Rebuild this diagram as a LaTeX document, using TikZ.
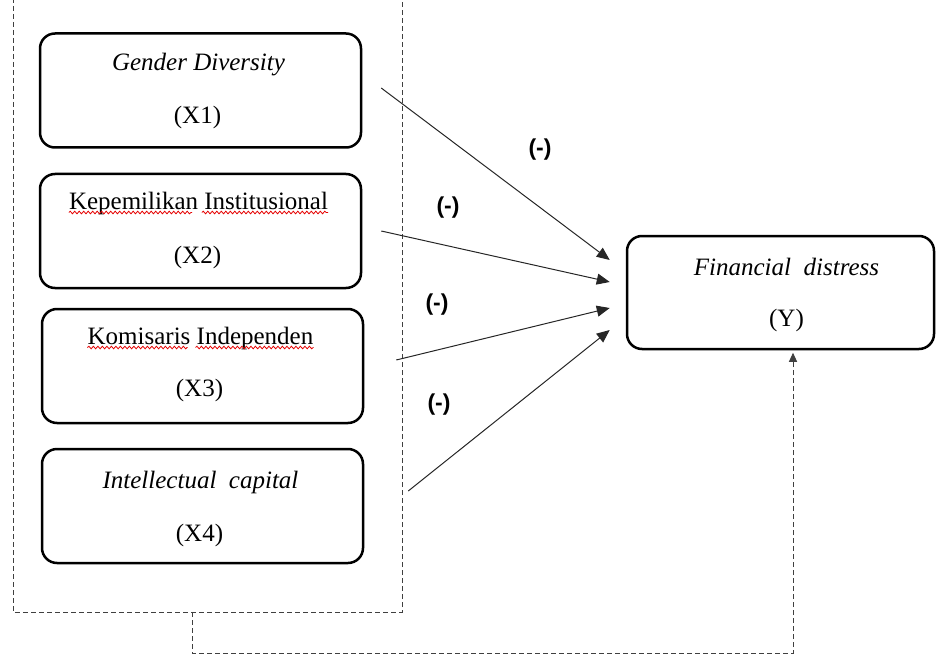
\documentclass[tikz,border=0pt]{standalone}
\usepackage{fontspec}
\setmainfont{Liberation Serif}
\newfontfamily\labfont{Liberation Sans}
\usetikzlibrary{arrows.meta,calc,decorations.pathmorphing}
\begin{document}
\begin{tikzpicture}[x=1pt,y=-1pt,
  var/.style={draw=black,line width=2.5pt,rounded corners=15pt,minimum width=321pt,minimum height=114pt,inner sep=0pt},
  txt/.style={inner sep=0pt,font={\fontsize{25}{30}\selectfont}},
  itx/.style={inner sep=0pt,font={\fontsize{25}{30}\selectfont\itshape}},
  sign/.style={inner sep=0pt,font={\labfont\bfseries\fontsize{23}{27}\selectfont}},
  link/.style={draw=black!85,line width=1pt,-{Triangle[length=13pt,width=11pt]}},
  frame/.style={draw=black!75,line width=1pt,dash pattern=on 5pt off 3pt},
  squig/.style={draw=red!90!black,line width=0.8pt,decorate,decoration={snake,amplitude=1.3pt,segment length=4.5pt}}
]
\useasboundingbox (0,0) rectangle (936,655);

% dashed frame around independent variables
\draw[frame] (13,-2) -- (13,612) -- (402,612) -- (402,-2);

% boxes
\node[var] (x1) at (200.5,90.5) {};
\node[var] (x2) at (200.5,231) {};
\node[var] (x3) at (202.5,366) {};
\node[var] (x4) at (202.5,506) {};
\node[var,minimum width=307pt,minimum height=113pt] (y) at (780.5,292.5) {};

% texts
\node[itx] (t1a) at ($(x1.center)+(-2,-25.5)$) {Gender Diversity};
\node[txt] (t1b) at ($(x1.center)+(-3,26.5)$) {(X1)};
\node[txt] (t2a) at ($(x2.center)+(-2,-28)$) {Kepemilikan Institusional};
\node[txt] (t2b) at ($(x2.center)+(-3,26)$) {(X2)};
\node[txt] (t3a) at ($(x3.center)+(-2,-28)$) {Komisaris Independen};
\node[txt] (t3b) at ($(x3.center)+(-3,24)$) {(X3)};
\node[itx] (t4a) at ($(x4.center)+(-2,-24)$) {Intellectual\ \ capital};
\node[txt] (t4b) at ($(x4.center)+(-3,29)$) {(X4)};
\node[itx] (tya) at ($(y.center)+(6,-25.5)$) {Financial\ \ distress};
\node[txt] (tyb) at ($(y.center)+(6,27.5)$) {(Y)};

% spell-check underlines
\coordinate (k1) at ($(t2a.base west)!0.475!(t2a.base east)$);
\coordinate (k2) at ($(t2a.base west)!0.513!(t2a.base east)$);
\coordinate (k3) at ($(t3a.base west)!0.443!(t3a.base east)$);
\coordinate (k4) at ($(t3a.base west)!0.478!(t3a.base east)$);
\draw[squig] ([yshift=-3.5pt]t2a.base west) -- ([yshift=-3.5pt]k1);
\draw[squig] ([yshift=-3.5pt]k2) -- ([yshift=-3.5pt]t2a.base east);
\draw[squig] ([yshift=-3.5pt]t3a.base west) -- ([yshift=-3.5pt]k3);
\draw[squig] ([yshift=-3.5pt]k4) -- ([yshift=-3.5pt]t3a.base east);

% arrow end points
\coordinate (s1) at ($(x1.east)+(19,-2.5)$);
\coordinate (s2) at ($(x2.east)+(19,0)$);
\coordinate (s3) at ($(x3.east)+(32,-6)$);
\coordinate (s4) at ($(x4.east)+(44,-15)$);
\coordinate (e1) at ($(y.west)+(-16,-32.5)$);
\coordinate (e2) at ($(y.west)+(-16,-10.5)$);
\coordinate (e3) at ($(y.west)+(-16,15.5)$);
\coordinate (e4) at ($(y.west)+(-16,37.5)$);

\draw[link] (s1) -- (e1);
\draw[link] (s2) -- (e2);
\draw[link] (s3) -- (e3);
\draw[link] (s4) -- (e4);

% signs
\node[sign] (l1) at (540,150) {(-)};
\node[sign] (l2) at (448,208) {(-)};
\node[sign] (l3) at (437,305) {(-)};
\node[sign] (l4) at (439,405) {(-)};

% feedback connector
\coordinate (fb) at (192,612);
\coordinate (fy) at ($(y.south)+(12.5,2.5)$);
\draw[frame,-{Triangle[length=9pt,width=8pt]}] (fb) -- (192,653) -- (fy |- 0,653) -- (fy);
\end{tikzpicture}
\end{document}
